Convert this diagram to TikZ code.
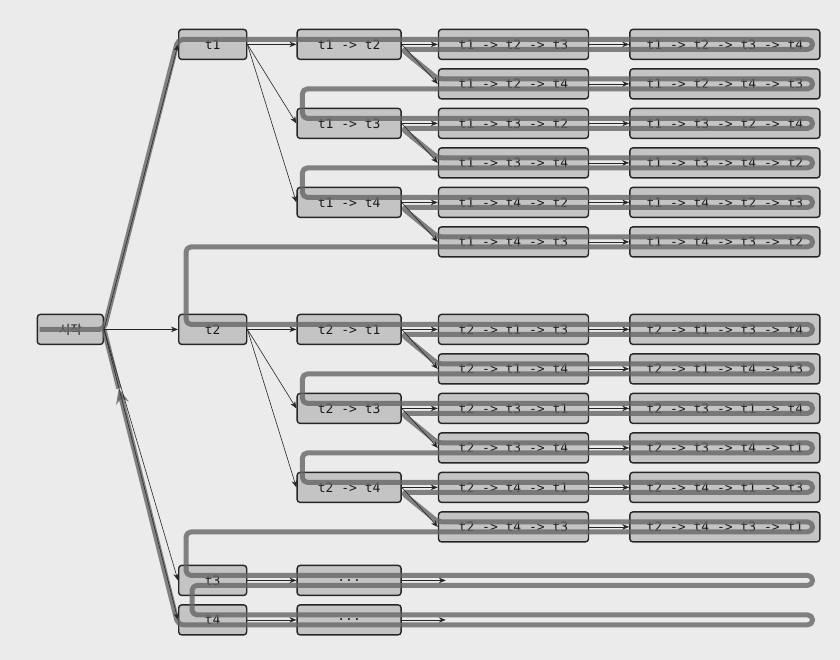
\documentclass[tikz,border=0pt]{standalone}
\usepackage{fontspec}
\setmonofont{DejaVu Sans Mono}
\newfontfamily\krfont{Noto Sans CJK KR}
\usepackage{tikz}
\usetikzlibrary{arrows,arrows.meta,calc,matrix}

\begin{document}
\begin{tikzpicture}[x=1pt,y=1pt,
  job/.style={rectangle,rounded corners=3pt,draw=black!85,line width=1.4pt,fill=black!23,minimum height=30pt,inner sep=2pt,text=black!90,font=\ttfamily\fontsize{13}{15}\selectfont},
  jobroot/.style={job,minimum width=66pt,font=\krfont\fontsize{12.5}{14}\selectfont},
  jobone/.style={job,minimum width=68pt},
  jobtwo/.style={job,minimum width=104pt},
  jobthree/.style={job,minimum width=150pt},
  jobfour/.style={job,minimum width=190pt},
  edge/.style={->,>={Stealth[length=7pt,width=5.5pt]},draw=black!85,line width=0.6pt},
  tour/.style={draw=black!60,opacity=0.8,line width=5pt,rounded corners=5pt,line join=round}]
\useasboundingbox[fill=black!8] (0,0) rectangle (840,-660);
\matrix (tree) [row sep=8.1pt,column sep=36pt,inner sep=0pt,anchor=north west] at (36.4,-28.5)
{
 \pgfmatrixnextcell[38pt] \node(t1)[jobone]{t1}; \pgfmatrixnextcell[13pt] \node(t12)[jobtwo]{t1 -> t2}; \pgfmatrixnextcell \node(t123)[jobthree]{t1 -> t2 -> t3}; \pgfmatrixnextcell[4pt] \node(t1234)[jobfour]{t1 -> t2 -> t3 -> t4};\\
 \pgfmatrixnextcell \pgfmatrixnextcell \pgfmatrixnextcell \node(t124)[jobthree]{t1 -> t2 -> t4}; \pgfmatrixnextcell \node(t1243)[jobfour]{t1 -> t2 -> t4 -> t3};\\
 \pgfmatrixnextcell \pgfmatrixnextcell \node(t13)[jobtwo]{t1 -> t3}; \pgfmatrixnextcell \node(t132)[jobthree]{t1 -> t3 -> t2}; \pgfmatrixnextcell \node(t1324)[jobfour]{t1 -> t3 -> t2 -> t4};\\
 \pgfmatrixnextcell \pgfmatrixnextcell \pgfmatrixnextcell \node(t134)[jobthree]{t1 -> t3 -> t4}; \pgfmatrixnextcell \node(t1342)[jobfour]{t1 -> t3 -> t4 -> t2};\\
 \pgfmatrixnextcell \pgfmatrixnextcell \node(t14)[jobtwo]{t1 -> t4}; \pgfmatrixnextcell \node(t142)[jobthree]{t1 -> t4 -> t2}; \pgfmatrixnextcell \node(t1423)[jobfour]{t1 -> t4 -> t2 -> t3};\\
 \pgfmatrixnextcell \pgfmatrixnextcell \pgfmatrixnextcell \node(t143)[jobthree]{t1 -> t4 -> t3}; \pgfmatrixnextcell \node(t1432)[jobfour]{t1 -> t4 -> t3 -> t2};\\[48pt]
 \node(s)[jobroot]{시작}; \pgfmatrixnextcell \node(t2)[jobone]{t2}; \pgfmatrixnextcell \node(t21)[jobtwo]{t2 -> t1}; \pgfmatrixnextcell \node(t213)[jobthree]{t2 -> t1 -> t3}; \pgfmatrixnextcell \node(t2134)[jobfour]{t2 -> t1 -> t3 -> t4};\\
 \pgfmatrixnextcell \pgfmatrixnextcell \pgfmatrixnextcell \node(t214)[jobthree]{t2 -> t1 -> t4}; \pgfmatrixnextcell \node(t2143)[jobfour]{t2 -> t1 -> t4 -> t3};\\
 \pgfmatrixnextcell \pgfmatrixnextcell \node(t23)[jobtwo]{t2 -> t3}; \pgfmatrixnextcell \node(t231)[jobthree]{t2 -> t3 -> t1}; \pgfmatrixnextcell \node(t2314)[jobfour]{t2 -> t3 -> t1 -> t4};\\
 \pgfmatrixnextcell \pgfmatrixnextcell \pgfmatrixnextcell \node(t234)[jobthree]{t2 -> t3 -> t4}; \pgfmatrixnextcell \node(t2341)[jobfour]{t2 -> t3 -> t4 -> t1};\\
 \pgfmatrixnextcell \pgfmatrixnextcell \node(t24)[jobtwo]{t2 -> t4}; \pgfmatrixnextcell \node(t241)[jobthree]{t2 -> t4 -> t1}; \pgfmatrixnextcell \node(t2413)[jobfour]{t2 -> t4 -> t1 -> t3};\\
 \pgfmatrixnextcell \pgfmatrixnextcell \pgfmatrixnextcell \node(t243)[jobthree]{t2 -> t4 -> t3}; \pgfmatrixnextcell \node(t2431)[jobfour]{t2 -> t4 -> t3 -> t1};\\[14pt]
 \pgfmatrixnextcell \node(t3)[jobone]{t3}; \pgfmatrixnextcell \node(d3)[jobtwo]{...};\\
 \pgfmatrixnextcell \node(t4)[jobone]{t4}; \pgfmatrixnextcell \node(d4)[jobtwo]{...};\\
};

% free ends
\coordinate (d3x) at ($(t243.west |- d3)+(8pt,0)$);
\coordinate (d4x) at ($(t243.west |- d4)+(8pt,0)$);
\coordinate (far3) at ($(t2431.east |- t3)+(-8pt,0)$);
\coordinate (far4) at ($(t2431.east |- t4)+(-8pt,0)$);
\coordinate (back) at ($([yshift=-5pt]t4.west)!0.8!(s.east)$);

% search order
\draw [tour,-{Stealth[length=15pt,width=13pt]}] ([xshift=3pt]s.west) -- (s.east) -- ([yshift=5pt]t1.west)
 -- ([xshift=-8pt,yshift=5pt]t1234.east) -- ([xshift=-8pt,yshift=-5pt]t1234.east)
 -- ([yshift=-5pt]t12.east) -- ([yshift=5pt]t124.west)
 -- ([xshift=-8pt,yshift=5pt]t1243.east) -- ([xshift=-8pt,yshift=-5pt]t1243.east)
 -- ($(t13.west |- t124.west)+(6pt,-5pt)$) -- ($(t13.west)+(6pt,5pt)$)
 -- ([xshift=-8pt,yshift=5pt]t1324.east) -- ([xshift=-8pt,yshift=-5pt]t1324.east)
 -- ([yshift=-5pt]t13.east) -- ([yshift=5pt]t134.west)
 -- ([xshift=-8pt,yshift=5pt]t1342.east) -- ([xshift=-8pt,yshift=-5pt]t1342.east)
 -- ($(t14.west |- t134.west)+(6pt,-5pt)$) -- ($(t14.west)+(6pt,5pt)$)
 -- ([xshift=-8pt,yshift=5pt]t1423.east) -- ([xshift=-8pt,yshift=-5pt]t1423.east)
 -- ([yshift=-5pt]t14.east) -- ([yshift=5pt]t143.west)
 -- ([xshift=-8pt,yshift=5pt]t1432.east) -- ([xshift=-8pt,yshift=-5pt]t1432.east)
 -- ($(t2.west |- t143.west)+(8pt,-5pt)$) -- ($(t2.west)+(8pt,5pt)$)
 -- ([xshift=-8pt,yshift=5pt]t2134.east) -- ([xshift=-8pt,yshift=-5pt]t2134.east)
 -- ([yshift=-5pt]t21.east) -- ([yshift=5pt]t214.west)
 -- ([xshift=-8pt,yshift=5pt]t2143.east) -- ([xshift=-8pt,yshift=-5pt]t2143.east)
 -- ($(t23.west |- t214.west)+(6pt,-5pt)$) -- ($(t23.west)+(6pt,5pt)$)
 -- ([xshift=-8pt,yshift=5pt]t2314.east) -- ([xshift=-8pt,yshift=-5pt]t2314.east)
 -- ([yshift=-5pt]t23.east) -- ([yshift=5pt]t234.west)
 -- ([xshift=-8pt,yshift=5pt]t2341.east) -- ([xshift=-8pt,yshift=-5pt]t2341.east)
 -- ($(t24.west |- t234.west)+(6pt,-5pt)$) -- ($(t24.west)+(6pt,5pt)$)
 -- ([xshift=-8pt,yshift=5pt]t2413.east) -- ([xshift=-8pt,yshift=-5pt]t2413.east)
 -- ([yshift=-5pt]t24.east) -- ([yshift=5pt]t243.west)
 -- ([xshift=-8pt,yshift=5pt]t2431.east) -- ([xshift=-8pt,yshift=-5pt]t2431.east)
 -- ($(t3.west |- t243.west)+(8pt,-5pt)$) -- ($(t3.west)+(8pt,5pt)$)
 -- ([yshift=5pt]far3) -- ([yshift=-5pt]far3)
 -- ($(t3.west)+(14pt,-5pt)$) -- ($(t4.west)+(14pt,5pt)$)
 -- ([yshift=5pt]far4) -- ([yshift=-5pt]far4)
 -- ([yshift=-5pt]t4.west) -- (back);
\draw [tour] (back) -- (s.east);

\draw [edge] (s.east) to (t1.west);
\draw [edge] (s) to (t2);
\draw [edge] (s.east) to (t3.west);
\draw [edge] (s.east) to (t4.west);

\draw [edge] (t1) to (t12);
\draw [edge] (t1.east) to (t13.west);
\draw [edge] (t1.east) to (t14.west);
\draw [edge] (t2) to (t21);
\draw [edge] (t2.east) to (t23.west);
\draw [edge] (t2.east) to (t24.west);
\draw [edge] (t3) to (d3);
\draw [edge] (t4) to (d4);

\draw [edge] (t12) to (t123);
\draw [edge] (t12.east) to (t124.west);
\draw [edge] (t13) to (t132);
\draw [edge] (t13.east) to (t134.west);
\draw [edge] (t14) to (t142);
\draw [edge] (t14.east) to (t143.west);
\draw [edge] (t21) to (t213);
\draw [edge] (t21.east) to (t214.west);
\draw [edge] (t23) to (t231);
\draw [edge] (t23.east) to (t234.west);
\draw [edge] (t24) to (t241);
\draw [edge] (t24.east) to (t243.west);
\draw [edge] (d3) to (d3x);
\draw [edge] (d4) to (d4x);

\draw [edge] (t123) to (t1234);
\draw [edge] (t124) to (t1243);
\draw [edge] (t132) to (t1324);
\draw [edge] (t134) to (t1342);
\draw [edge] (t142) to (t1423);
\draw [edge] (t143) to (t1432);
\draw [edge] (t213) to (t2134);
\draw [edge] (t214) to (t2143);
\draw [edge] (t231) to (t2314);
\draw [edge] (t234) to (t2341);
\draw [edge] (t241) to (t2413);
\draw [edge] (t243) to (t2431);
\end{tikzpicture}
\end{document}
